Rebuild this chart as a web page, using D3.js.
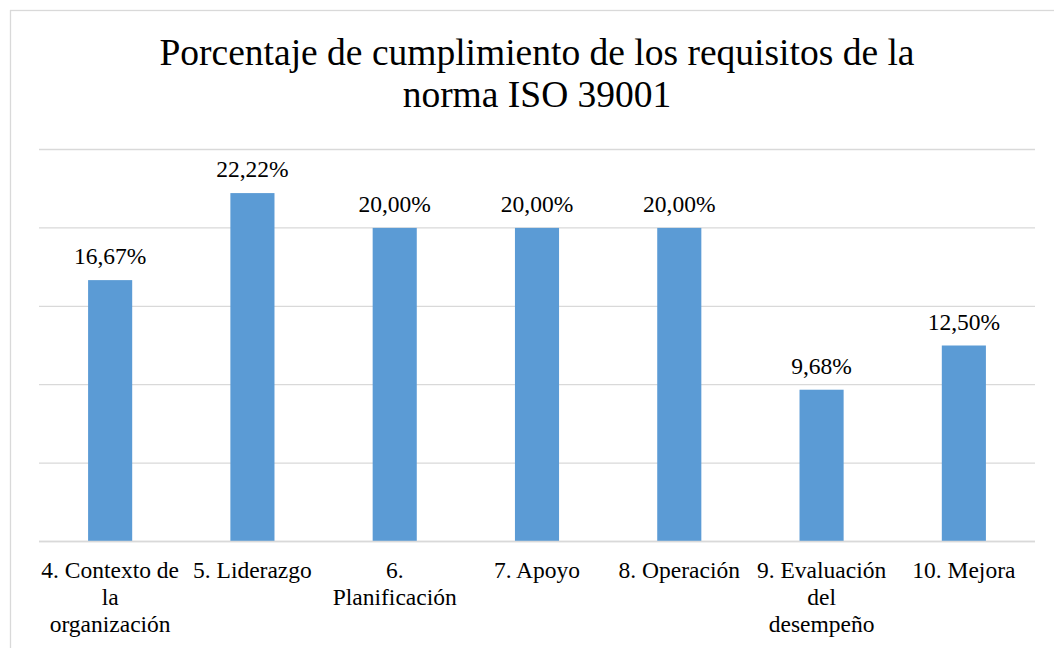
<!DOCTYPE html>
<html>
<head>
<meta charset="utf-8">
<script src="https://cdn.jsdelivr.net/npm/d3@7"></script>
<style>
  body { margin: 0; background: #fff; }
  svg text { font-family: "Liberation Serif", "Times New Roman", serif; fill: #000; }
</style>
</head>
<body>
<div id="chart"></div>
<script>
// data
const categories = ["4. Contexto de la organización", "5. Liderazgo", "6. Planificación",
    "7. Apoyo", "8. Operación", "9. Evaluación del desempeño", "10. Mejora"]
const values = [16.67, 22.22, 20.00, 20.00, 20.00, 9.68, 12.50]
const yTicks = [0, 5, 10, 15, 20, 25]
const titleLines = ["Porcentaje de cumplimiento de los requisitos de la", "norma ISO 39001"]

const width = 1054, height = 648
const plot = {left: 39, right: 1035, top: 149.5, bottom: 541.5}
const serif = "'Liberation Serif', 'Times New Roman', serif"

const svg = d3.select("#chart")
    .append("svg")
    .attr("width", width)
    .attr("height", height)
    .attr("font-family", serif)

// chart border
svg.append("rect")
    .attr("x", 10.5).attr("y", 10.5)
    .attr("width", width + 20).attr("height", height + 20)
    .attr("fill", "#fff")
    .attr("stroke", "#d9d9d9")
    .attr("stroke-width", 1.3)

// title
svg.append("text")
    .attr("text-anchor", "middle")
    .style("font-size", "37.5px")
    .selectAll("tspan")
    .data(titleLines)
    .join("tspan")
    .attr("x", 537)
    .attr("y", (d, i) => 65 + i * 42)
    .text(d => d)

const x = d3.scaleBand()
    .domain(categories)
    .range([plot.left, plot.right])
    .paddingInner(0.69)
    .paddingOuter(0.345)

const y = d3.scaleLinear()
    .domain([0, 25])
    .range([plot.bottom, plot.top])

// gridlines
svg.append("g")
    .selectAll("line")
    .data(yTicks)
    .join("line")
    .attr("x1", plot.left).attr("x2", plot.right)
    .attr("y1", d => y(d)).attr("y2", d => y(d))
    .attr("stroke", "#d9d9d9")
    .attr("stroke-width", 1.3)

// bars
svg.append("g")
    .selectAll("rect")
    .data(values)
    .join("rect")
    .attr("x", (d, i) => x(categories[i]))
    .attr("width", x.bandwidth())
    .attr("y", d => y(d))
    .attr("height", d => y(0) - y(d))
    .attr("fill", "#5b9bd5")

// baseline on top of bars
svg.append("line")
    .attr("x1", plot.left).attr("x2", plot.right)
    .attr("y1", y(0)).attr("y2", y(0))
    .attr("stroke", "#d9d9d9")
    .attr("stroke-width", 1.3)

// value labels
svg.append("g")
    .selectAll("text")
    .data(values)
    .join("text")
    .attr("x", (d, i) => x(categories[i]) + x.bandwidth() / 2)
    .attr("y", d => y(d) - 16)
    .attr("text-anchor", "middle")
    .style("font-size", "23.5px")
    .text(d => d.toFixed(2).replace(".", ",") + "%")

// category labels, wrapped like excel does (a bit narrower than the step)
const wrapWidth = x.step() - 3.5
const labels = svg.append("g")
    .selectAll("text")
    .data(categories)
    .join("text")
    .attr("text-anchor", "middle")
    .style("font-size", "23.5px")

labels.each(function(d) {
    const el = d3.select(this)
    const cx = x(d) + x.bandwidth() / 2
    const words = d.split(" ")
    let lines = [], line = []
    const probe = el.append("tspan")
    words.forEach(w => {
        const test = line.concat([w]).join(" ")
        probe.text(test)
        if (line.length && probe.node().getComputedTextLength() > wrapWidth) {
            lines.push(line.join(" "))
            line = [w]
        } else {
            line.push(w)
        }
    })
    lines.push(line.join(" "))
    probe.remove()
    el.selectAll("tspan")
        .data(lines)
        .join("tspan")
        .attr("x", cx)
        .attr("y", (l, i) => 578 + i * 27)
        .text(l => l)
})
</script>
</body>
</html>
